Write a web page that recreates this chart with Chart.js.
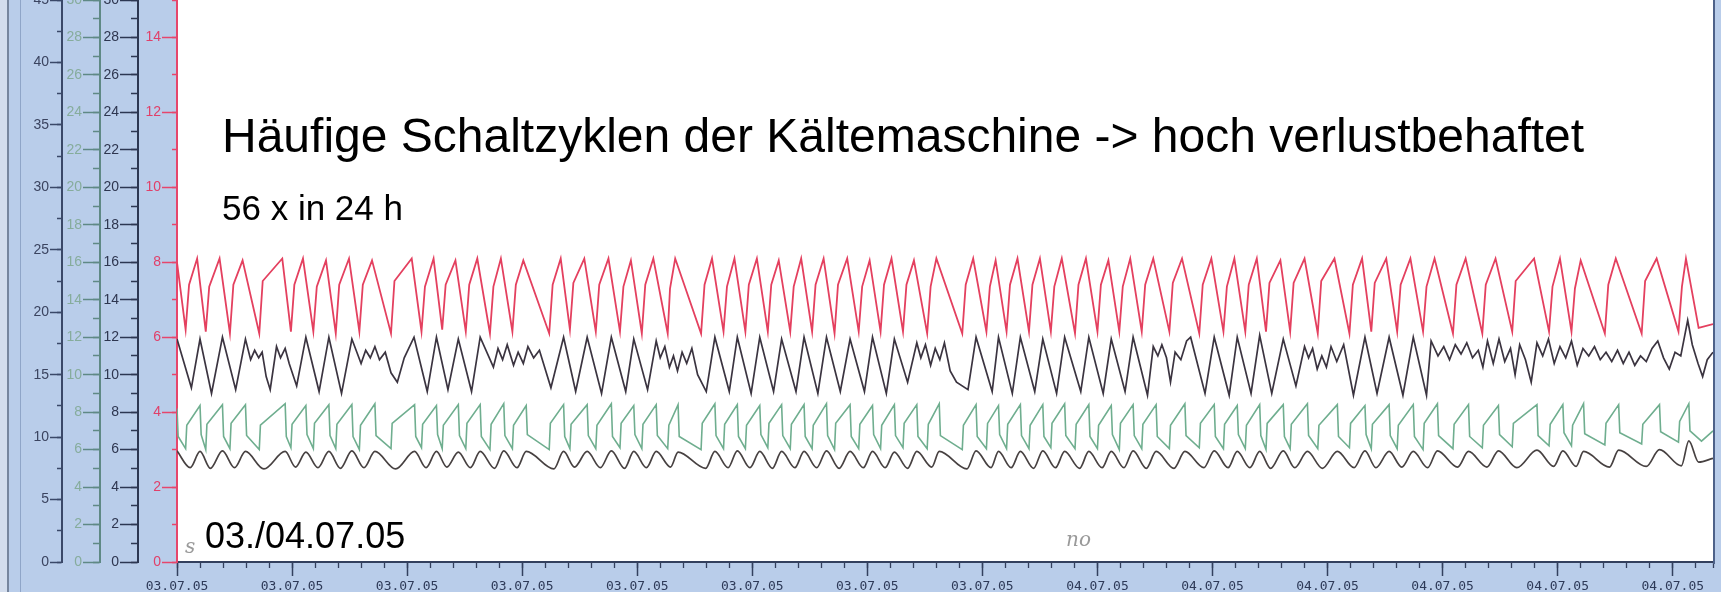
<!DOCTYPE html>
<html>
<head>
<meta charset="utf-8">
<script src="https://cdn.jsdelivr.net/npm/chart.js@4.4.1/dist/chart.umd.min.js"></script>
<style>
  html, body { margin: 0; padding: 0; overflow: hidden; background: #b9cdea; }
  #wrap { position: relative; width: 1721px; height: 592px; }
</style>
</head>
<body>
<div id="wrap"><canvas id="c"></canvas></div>
<script>
// x axis: hours after 03.07.05 08:00
const xTickDates = ["03.07.05", "03.07.05", "03.07.05", "03.07.05", "03.07.05", "03.07.05", "03.07.05",
  "03.07.05", "04.07.05", "04.07.05", "04.07.05", "04.07.05", "04.07.05", "04.07.05"];
const xTickTimes = ["08:00:00", "10:00:00", "12:00:00", "14:00:00", "16:00:00", "18:00:00", "20:00:00",
  "22:00:00", "00:00:00", "02:00:00", "04:00:00", "06:00:00", "08:00:00", "10:00:00"];

// red trace (red scale 0..15): trough, bend, peak per cycle
const redT = [0.00,
  0.15, 0.21, 0.35, 0.50, 0.56, 0.74, 0.92, 0.98, 1.14, 1.43, 1.49, 1.83, 1.98, 2.04, 2.19,
  2.37, 2.43, 2.59, 2.76, 2.82, 2.99, 3.17, 3.23, 3.39, 3.72, 3.78, 4.08, 4.25, 4.31, 4.46,
  4.61, 4.67, 4.84, 5.02, 5.08, 5.22, 5.44, 5.50, 5.63, 5.83, 5.89, 6.02, 6.47, 6.53, 6.67,
  6.83, 6.89, 7.08, 7.28, 7.34, 7.50, 7.70, 7.76, 7.89, 8.08, 8.14, 8.28, 8.53, 8.57, 8.66,
  9.11, 9.17, 9.30, 9.50, 9.56, 9.69, 9.88, 9.94, 10.08, 10.27, 10.33, 10.46, 10.66, 10.72, 10.85,
  11.04, 11.10, 11.24, 11.43, 11.49, 11.65, 11.85, 11.91, 12.04, 12.23, 12.29, 12.42, 12.62, 12.68, 12.81,
  13.04, 13.10, 13.20, 13.65, 13.71, 13.84, 14.07, 14.13, 14.23, 14.42, 14.48, 14.61, 14.81, 14.87, 15.00,
  15.19, 15.25, 15.38, 15.61, 15.67, 15.80, 16.00, 16.06, 16.19, 16.38, 16.44, 16.57, 16.77, 16.83, 16.97,
  17.25, 17.31, 17.47, 17.77, 17.83, 17.98, 18.19, 18.25, 18.38, 18.57, 18.63, 18.77, 18.93, 18.99, 19.18,
  19.35, 19.41, 19.60, 19.83, 19.89, 20.12, 20.38, 20.44, 20.60, 20.76, 20.82, 21.02, 21.21, 21.27, 21.44,
  21.66, 21.72, 21.86, 22.18, 22.24, 22.40, 22.69, 22.75, 22.92, 23.21, 23.27, 23.59, 23.85, 23.91, 24.04,
  24.24, 24.30, 24.40, 24.82, 24.88, 25.01, 25.46, 25.52, 25.72, 26.10, 26.16, 26.23,
  26.45, 26.70];
const redV = [8.0,
  6.20, 7.40, 8.10, 6.15, 7.35, 8.10, 6.10, 7.40, 8.05, 6.10, 7.50, 8.10, 6.15, 7.40, 8.10,
  6.15, 7.35, 8.05, 6.10, 7.40, 8.10, 6.15, 7.40, 8.05, 6.10, 7.50, 8.10, 6.15, 7.35, 8.10,
  6.20, 7.40, 8.05, 6.15, 7.40, 8.10, 6.10, 7.35, 8.10, 6.15, 7.40, 8.05, 6.10, 7.40, 8.10,
  6.20, 7.45, 8.10, 6.15, 7.40, 8.10, 6.15, 7.35, 8.05, 6.10, 7.40, 8.10, 6.10, 7.30, 8.10,
  6.10, 7.40, 8.10, 6.15, 7.35, 8.10, 6.15, 7.40, 8.10, 6.15, 7.40, 8.05, 6.15, 7.35, 8.10,
  6.15, 7.40, 8.10, 6.10, 7.40, 8.10, 6.15, 7.35, 8.05, 6.15, 7.40, 8.10, 6.15, 7.40, 8.05,
  6.10, 7.35, 8.10, 6.10, 7.40, 8.10, 6.15, 7.35, 8.05, 6.15, 7.40, 8.10, 6.15, 7.40, 8.10,
  6.15, 7.35, 8.10, 6.10, 7.40, 8.10, 6.15, 7.40, 8.05, 6.15, 7.35, 8.10, 6.15, 7.40, 8.10,
  6.15, 7.45, 8.10, 6.10, 7.40, 8.10, 6.15, 7.35, 8.10, 6.15, 7.40, 8.10, 6.15, 7.45, 8.05,
  6.15, 7.45, 8.10, 6.10, 7.50, 8.10, 6.10, 7.40, 8.10, 6.15, 7.45, 8.10, 6.15, 7.40, 8.10,
  6.15, 7.35, 8.10, 6.10, 7.40, 8.10, 6.10, 7.40, 8.10, 6.15, 7.50, 8.10, 6.15, 7.35, 8.10,
  6.15, 7.30, 8.05, 6.10, 7.40, 8.10, 6.10, 7.50, 8.10, 6.15, 7.35, 8.10,
  6.25, 6.35];

// dark upper trace (black scale 0..30)
const blackT = [0.00, 0.25, 0.40, 0.60, 0.79, 1.02, 1.19, 1.28, 1.35, 1.42, 1.48, 1.55, 1.62, 1.73,
  1.80, 1.88, 1.95, 2.08, 2.24, 2.47, 2.64, 2.86, 3.04, 3.20, 3.28, 3.36, 3.44, 3.52, 3.62, 3.72,
  3.83, 3.95, 4.12, 4.35, 4.51, 4.71, 4.89, 5.12, 5.27, 5.50, 5.58, 5.66, 5.74, 5.85, 5.93, 6.02,
  6.10, 6.20, 6.30, 6.50, 6.72, 6.93, 7.13, 7.38, 7.55, 7.80, 7.94, 8.18, 8.33, 8.40, 8.48, 8.56,
  8.63, 8.70, 8.78, 8.86, 8.95, 9.05, 9.20, 9.35, 9.60, 9.74, 9.98, 10.13, 10.37, 10.51, 10.76,
  10.90, 11.14, 11.29, 11.53, 11.70, 11.95, 12.09, 12.33, 12.47, 12.70, 12.86, 12.93, 13.01, 13.10,
  13.18, 13.26, 13.34, 13.44, 13.55, 13.75, 13.89, 14.17, 14.28, 14.52, 14.66, 14.91, 15.05, 15.29,
  15.43, 15.71, 15.85, 16.10, 16.24, 16.48, 16.62, 16.87, 16.97, 17.05, 17.12, 17.20, 17.27, 17.35,
  17.45, 17.55, 17.62, 17.87, 18.03, 18.29, 18.43, 18.67, 18.82, 19.03, 19.23, 19.45, 19.60, 19.67,
  19.74, 19.82, 19.90, 19.98, 20.06, 20.16, 20.28, 20.45, 20.65, 20.86, 21.07, 21.31, 21.49, 21.72,
  21.80, 21.92, 22.02, 22.12, 22.22, 22.32, 22.42, 22.52, 22.62, 22.70, 22.78, 22.88, 22.98, 23.08,
  23.18, 23.26, 23.34, 23.44, 23.54, 23.64, 23.74, 23.84, 23.94, 24.04, 24.14, 24.24, 24.34, 24.44,
  24.54, 24.64, 24.74, 24.84, 24.94, 25.04, 25.14, 25.24, 25.34, 25.44, 25.54, 25.64, 25.74, 25.84,
  25.94, 26.04, 26.14, 26.26, 26.34, 26.44, 26.52, 26.60, 26.70];
const blackV = [11.9, 9.3, 11.9, 9.0, 12.0, 9.2, 11.9, 10.8, 11.3, 10.9, 11.2, 9.9, 9.2, 11.5,
  10.9, 11.4, 10.6, 9.4, 12.0, 9.1, 12.0, 9.0, 11.9, 10.6, 11.3, 10.9, 11.5, 10.8, 11.2, 10.1,
  9.6, 10.9, 12.0, 9.1, 12.0, 9.2, 11.9, 9.1, 12.0, 10.4, 11.4, 10.8, 11.6, 10.5, 11.2, 10.6,
  11.5, 10.9, 11.3, 9.3, 12.0, 9.1, 12.0, 9.0, 12.0, 9.1, 11.9, 9.2, 11.8, 10.9, 11.5, 10.4,
  11.0, 10.2, 11.2, 10.6, 11.4, 10.0, 9.1, 12.0, 9.1, 12.0, 9.0, 12.0, 9.1, 11.9, 9.1,
  12.0, 9.0, 12.0, 9.1, 11.9, 9.1, 12.0, 9.0, 11.9, 9.6, 11.7, 10.9, 11.6, 10.5,
  11.4, 10.8, 11.7, 10.2, 9.6, 9.2, 12.0, 9.1, 12.0, 9.0, 12.0, 9.1, 11.9, 9.0,
  12.0, 9.1, 12.0, 9.0, 11.9, 9.1, 12.0, 8.9, 11.5, 11.0, 11.6, 10.9, 9.6, 11.2,
  10.8, 11.8, 12.0, 9.0, 12.0, 8.9, 12.0, 9.0, 12.1, 9.0, 11.9, 9.4, 11.5, 10.9,
  11.4, 10.3, 11.0, 10.4, 11.5, 10.7, 11.6, 8.9, 12.0, 9.0, 12.0, 8.9, 12.0, 8.9,
  11.8, 11.0, 11.5, 10.8, 11.6, 11.1, 11.7, 10.9, 11.3, 10.4, 11.8, 10.6, 11.9, 10.7,
  11.4, 10.0, 11.6, 10.8, 9.6, 11.7, 11.0, 11.9, 10.6, 11.5, 10.9, 11.8, 10.5, 11.4,
  11.0, 11.5, 10.8, 11.2, 10.7, 11.3, 10.6, 11.2, 10.5, 11.0, 10.7, 11.4, 11.8, 10.9,
  10.3, 11.2, 11.0, 12.9, 11.6, 10.6, 9.9, 10.8, 11.2];

// green trace (green scale 0..30)
const greenT = [0.00, 0.02,
  0.15, 0.17, 0.40, 0.42, 0.50, 0.52, 0.79, 0.81, 0.92, 0.94, 1.19, 1.21, 1.43, 1.45, 1.88, 1.90,
  1.98, 2.00, 2.24, 2.26, 2.37, 2.39, 2.64, 2.66, 2.76, 2.78, 3.04, 3.06, 3.17, 3.19, 3.44, 3.46,
  3.72, 3.74, 4.13, 4.15, 4.25, 4.27, 4.51, 4.53, 4.61, 4.63, 4.89, 4.91, 5.02, 5.04, 5.27, 5.29,
  5.44, 5.46, 5.68, 5.70, 5.83, 5.85, 6.07, 6.09, 6.47, 6.49, 6.72, 6.74, 6.83, 6.85, 7.13, 7.15,
  7.28, 7.30, 7.55, 7.57, 7.70, 7.72, 7.94, 7.96, 8.08, 8.10, 8.33, 8.35, 8.53, 8.55, 8.71, 8.73,
  9.11, 9.13, 9.35, 9.37, 9.50, 9.52, 9.74, 9.76, 9.88, 9.90, 10.13, 10.15, 10.27, 10.29, 10.51, 10.53,
  10.66, 10.68, 10.90, 10.92, 11.04, 11.06, 11.29, 11.31, 11.43, 11.45, 11.70, 11.72, 11.85, 11.87, 12.09, 12.11,
  12.23, 12.25, 12.47, 12.49, 12.62, 12.64, 12.86, 12.88, 13.04, 13.06, 13.25, 13.27, 13.65, 13.67, 13.89, 13.91,
  14.07, 14.09, 14.28, 14.30, 14.42, 14.44, 14.66, 14.68, 14.81, 14.83, 15.05, 15.07, 15.19, 15.21, 15.43, 15.45,
  15.61, 15.63, 15.85, 15.87, 16.00, 16.02, 16.24, 16.26, 16.38, 16.40, 16.62, 16.64, 16.77, 16.79, 17.02, 17.04,
  17.25, 17.27, 17.52, 17.54, 17.77, 17.79, 18.03, 18.05, 18.19, 18.21, 18.43, 18.45, 18.57, 18.59, 18.82, 18.84,
  18.93, 18.95, 19.23, 19.25, 19.35, 19.37, 19.65, 19.67, 19.83, 19.85, 20.17, 20.19, 20.38, 20.40, 20.65, 20.67,
  20.76, 20.78, 21.07, 21.09, 21.21, 21.23, 21.49, 21.51, 21.66, 21.68, 21.91, 21.93, 22.18, 22.20, 22.45, 22.47,
  22.69, 22.71, 22.97, 22.99, 23.21, 23.23, 23.64, 23.66, 23.85, 23.87, 24.09, 24.11, 24.24, 24.26, 24.45, 24.47,
  24.82, 24.84, 25.06, 25.08, 25.46, 25.48, 25.77, 25.79, 26.10, 26.12, 26.28, 26.30,
  26.50, 26.70];
const greenV = [8.2, 6.7,
  6.05, 7.30, 8.35, 6.80, 6.00, 7.35, 8.40, 6.70, 6.05, 7.40, 8.40, 6.75, 6.00, 7.30, 8.45, 6.70,
  6.10, 7.35, 8.35, 6.80, 6.05, 7.40, 8.40, 6.75, 6.05, 7.35, 8.40, 6.70, 6.00, 7.30, 8.45, 6.75,
  6.05, 7.40, 8.40, 6.70, 6.10, 7.35, 8.35, 6.80, 6.05, 7.30, 8.40, 6.75, 6.05, 7.40, 8.40, 6.70,
  6.00, 7.35, 8.45, 6.75, 6.05, 7.30, 8.35, 6.80, 6.00, 7.40, 8.40, 6.70, 6.05, 7.35, 8.40, 6.75,
  6.05, 7.30, 8.45, 6.70, 6.10, 7.40, 8.35, 6.80, 6.05, 7.35, 8.40, 6.75, 6.05, 7.30, 8.40, 6.70,
  6.00, 7.40, 8.45, 6.75, 6.05, 7.35, 8.40, 6.70, 6.05, 7.30, 8.35, 6.80, 6.10, 7.40, 8.40, 6.75,
  6.05, 7.35, 8.40, 6.70, 6.05, 7.30, 8.45, 6.75, 6.00, 7.40, 8.40, 6.70, 6.05, 7.35, 8.35, 6.80,
  6.05, 7.30, 8.40, 6.75, 6.10, 7.40, 8.40, 6.70, 6.05, 7.35, 8.45, 6.75, 6.00, 7.30, 8.40, 6.70,
  6.05, 7.40, 8.35, 6.80, 6.05, 7.35, 8.40, 6.75, 6.05, 7.30, 8.40, 6.70, 6.10, 7.40, 8.45, 6.75,
  6.05, 7.35, 8.40, 6.70, 6.05, 7.30, 8.35, 6.80, 6.00, 7.40, 8.40, 6.75, 6.05, 7.35, 8.40, 6.70,
  6.05, 7.30, 8.45, 6.75, 6.10, 7.40, 8.40, 6.70, 6.05, 7.35, 8.35, 6.80, 6.05, 7.30, 8.40, 6.75,
  6.00, 7.40, 8.40, 6.70, 6.05, 7.35, 8.45, 6.75, 6.05, 7.30, 8.40, 6.70, 6.10, 7.40, 8.35, 6.80,
  6.05, 7.35, 8.40, 6.75, 6.05, 7.30, 8.40, 6.70, 6.00, 7.40, 8.45, 6.75, 6.05, 7.35, 8.40, 6.70,
  6.10, 7.30, 8.35, 6.80, 6.15, 7.40, 8.40, 6.75, 6.20, 7.35, 8.40, 6.90, 6.20, 7.30, 8.45, 6.85,
  6.25, 7.40, 8.40, 6.90, 6.30, 7.35, 8.40, 6.95, 6.40, 7.50, 8.45, 7.00,
  6.45, 7.00];

// dark lower trace (left scale 0..45)
const lowT = [0.00,
  0.23, 0.40, 0.58, 0.79, 1.00, 1.19, 1.51, 1.88, 2.06, 2.24, 2.45, 2.64, 2.84, 3.04, 3.25, 3.44,
  3.80, 4.13, 4.33, 4.51, 4.69, 4.89, 5.10, 5.27, 5.52, 5.68, 5.91, 6.07, 6.55, 6.72, 6.91, 7.13,
  7.36, 7.55, 7.78, 7.94, 8.16, 8.33, 8.58, 8.71, 9.19, 9.35, 9.58, 9.74, 9.96, 10.13, 10.35, 10.51,
  10.74, 10.90, 11.12, 11.29, 11.51, 11.70, 11.93, 12.09, 12.31, 12.47, 12.70, 12.86, 13.12, 13.25,
  13.73, 13.89, 14.15, 14.28, 14.50, 14.66, 14.89, 15.05, 15.27, 15.43, 15.69, 15.85, 16.08, 16.24,
  16.46, 16.62, 16.85, 17.02, 17.33, 17.52, 17.85, 18.03, 18.27, 18.43, 18.65, 18.82, 19.01, 19.23,
  19.43, 19.65, 19.91, 20.17, 20.46, 20.65, 20.84, 21.07, 21.29, 21.49, 21.74, 21.91, 22.26, 22.45,
  22.77, 22.97, 23.29, 23.64, 23.93, 24.09, 24.32, 24.45, 24.90, 25.06, 25.54, 25.77, 26.15, 26.28,
  26.45, 26.70];
const lowV = [8.9,
  7.55, 8.85, 7.50, 8.90, 7.55, 8.85, 7.45, 8.85, 7.60, 8.80, 7.55, 8.85, 7.50, 8.90, 7.55, 8.85,
  7.45, 8.85, 7.55, 8.85, 7.60, 8.80, 7.55, 8.85, 7.50, 8.90, 7.55, 8.85, 7.45, 8.85, 7.60, 8.85,
  7.55, 8.90, 7.50, 8.85, 7.55, 8.85, 7.60, 8.80, 7.50, 8.85, 7.55, 8.90, 7.55, 8.85, 7.50, 8.85,
  7.55, 8.85, 7.55, 8.90, 7.50, 8.85, 7.55, 8.85, 7.55, 8.80, 7.50, 8.85, 7.60, 8.85,
  7.45, 8.90, 7.55, 8.85, 7.55, 8.85, 7.50, 8.90, 7.55, 8.85, 7.50, 8.85, 7.55, 8.85,
  7.55, 8.90, 7.50, 8.85, 7.50, 8.85, 7.55, 8.90, 7.55, 8.85, 7.55, 8.85, 7.50, 8.90,
  7.55, 8.85, 7.50, 8.85, 7.55, 8.90, 7.55, 8.85, 7.60, 8.85, 7.55, 8.90, 7.60, 8.85,
  7.60, 8.90, 7.55, 8.95, 7.65, 8.90, 7.65, 8.85, 7.60, 8.95, 7.65, 9.00, 7.70, 9.70,
  8.00, 8.30];

const TITLE = "Häufige Schaltzyklen der Kältemaschine -> hoch verlustbehaftet";
const SUBTITLE = "56 x in 24 h";
const DATE_NOTE = "03./04.07.05";

const BLUE = "#b9cdea";
const NAVY = "#33405e";

const pts = (ts, vs) => ts.map((t, i) => ({ x: t, y: vs[i] }));

function fixWidth(w) {
  return (s) => { s.width = w; s.paddingTop = 0; s.paddingBottom = 0; };
}
function fixHeight(h) {
  return (s) => { s.height = h; s.paddingLeft = 0; s.paddingRight = 0; };
}

// one ruler on the left; minor rulers have zero width and sit on the major ruler's line
function ruler(max, step, weight, width, tickLen, lineColor, labelColor, labels, hideTop) {
  return {
    type: "linear", position: "left", min: 0, max, weight, bounds: "data",
    afterFit: fixWidth(width),
    afterBuildTicks: hideTop ? (s) => { s.ticks = s.ticks.filter((t) => t.value < max); } : undefined,
    border: { display: labels, color: lineColor, width: 2 },
    grid: { drawOnChartArea: false, drawTicks: true, tickLength: tickLen, tickColor: lineColor, tickWidth: 1.5 },
    ticks: {
      display: labels, stepSize: step, autoSkip: false, includeBounds: false, padding: 1,
      color: labelColor, font: { family: "Liberation Sans", size: 14 },
    },
  };
}

const backdrop = {
  id: "backdrop",
  beforeDraw(chart) {
    const { ctx, chartArea: a, width, height } = chart;
    ctx.save();
    ctx.fillStyle = BLUE;
    ctx.fillRect(0, 0, width, height);
    ctx.fillStyle = "#ffffff";
    ctx.fillRect(a.left, a.top, a.right - a.left, a.bottom - a.top);
    ctx.fillStyle = "#d3dded";
    ctx.fillRect(0, 0, 7, height);
    ctx.fillStyle = "#77869e";
    ctx.fillRect(7, 0, 2, height);
    ctx.fillStyle = "#8fa5c8";
    ctx.fillRect(20, 0, 1, height);
    ctx.restore();
  },
  afterDraw(chart) {
    const { ctx, chartArea: a } = chart;
    ctx.save();
    ctx.fillStyle = "#4d6189";
    ctx.fillRect(a.right, 0, 2, a.bottom + 2);
    ctx.fillStyle = "#000000";
    ctx.textBaseline = "alphabetic";
    ctx.font = '48px "Liberation Sans", Arial, sans-serif';
    ctx.fillText(TITLE, 222, 152);
    ctx.font = '35px "Liberation Sans", Arial, sans-serif';
    ctx.fillText(SUBTITLE, 222, 220);
    ctx.font = '36px "Liberation Sans", Arial, sans-serif';
    ctx.fillText(DATE_NOTE, 205, 548);
    ctx.fillStyle = "#9a9a9a";
    ctx.font = 'italic 20px "DejaVu Serif", serif';
    ctx.fillText("s", 185, 553);
    ctx.fillText("no", 1066, 546);
    ctx.restore();
  },
};

new Chart(document.getElementById("c"), {
  type: "line",
  data: {
    datasets: [
      { label: "lower", data: pts(lowT, lowV), xAxisID: "x", yAxisID: "yA", borderColor: "#474141",
        borderWidth: 1.7, pointRadius: 0, cubicInterpolationMode: "monotone" },
      { label: "green", data: pts(greenT, greenV), xAxisID: "x", yAxisID: "yG", borderColor: "#6fae8f",
        borderWidth: 1.6, pointRadius: 0, tension: 0 },
      { label: "upper", data: pts(blackT, blackV), xAxisID: "x", yAxisID: "yB", borderColor: "#3b3440",
        borderWidth: 1.7, pointRadius: 0, tension: 0 },
      { label: "red", data: pts(redT, redV), xAxisID: "x", yAxisID: "yR", borderColor: "#e4405f",
        borderWidth: 1.8, pointRadius: 0, tension: 0 },
    ],
  },
  options: {
    responsive: true,
    maintainAspectRatio: false,
    animation: false,
    devicePixelRatio: 1,
    layout: { padding: { left: 20, right: 8, top: 0, bottom: 0 } },
    plugins: { legend: { display: false }, tooltip: { enabled: false } },
    scales: {
      x: {
        type: "linear", position: "bottom", min: 0, max: 26.7, weight: 1, bounds: "data",
        afterFit: fixHeight(30),
        afterBuildTicks: (s) => { s.ticks = s.ticks.filter((t) => Math.abs(t.value / 2 - Math.round(t.value / 2)) < 1e-6); },
        border: { color: NAVY, width: 2 },
        grid: { drawOnChartArea: false, tickLength: 14, tickColor: NAVY, tickWidth: 1.5 },
        ticks: {
          stepSize: 2, autoSkip: false, includeBounds: false, maxRotation: 0, minRotation: 0, padding: 3,
          color: "#2e3a58", font: { family: "DejaVu Sans Mono", size: 13 },
          callback: (v) => { const i = Math.round(v / 2); return [xTickDates[i], xTickTimes[i]]; },
        },
      },
      xm: {
        type: "linear", position: "bottom", min: 0, max: 26.7, weight: 0, bounds: "data",
        afterFit: fixHeight(0),
        border: { display: false },
        grid: { drawOnChartArea: false, tickLength: 6, tickColor: NAVY, tickWidth: 1.3 },
        ticks: { display: false, stepSize: 0.4, autoSkip: false, includeBounds: false },
      },
      yA: ruler(45, 5, 7, 42, 12, "#3a4868", "#3b4460", true, false),
      yAm: ruler(45, 2.5, 6, 0, 5, "#3a4868", "#3b4460", false, false),
      yG: ruler(30, 2, 5, 38, 17, "#5f8985", "#86ac9c", true, false),
      yGm: ruler(30, 1, 4, 0, 7, "#5f8985", "#86ac9c", false, false),
      yB: ruler(30, 2, 3, 38, 18, "#2c3752", "#2e3650", true, false),
      yBm: ruler(30, 1, 2, 0, 7, "#2c3752", "#2e3650", false, false),
      yR: ruler(15, 2, 1, 39, 15, "#e6466c", "#e0406a", true, true),
      yRm: ruler(15, 1, 0, 0, 5, "#e6466c", "#e0406a", false, false),
    },
  },
  plugins: [backdrop],
});
</script>
</body>
</html>
